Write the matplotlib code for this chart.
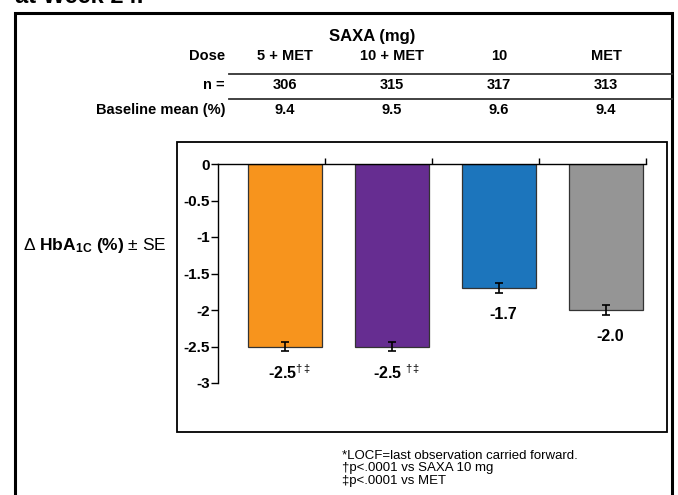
"""
Change in HbA1c at week 24 by treatment group.
"""
import matplotlib
matplotlib.use("Agg")
import matplotlib.pyplot as plt
import matplotlib.transforms as mtransforms
from matplotlib.patches import Rectangle
from matplotlib.lines import Line2D

plt.rcParams["font.family"] = ["Liberation Sans", "DejaVu Sans"]
plt.rcParams["mathtext.fontset"] = "custom"
plt.rcParams["mathtext.rm"] = "Liberation Sans"
plt.rcParams["mathtext.bf"] = "Liberation Sans:bold"
plt.rcParams["mathtext.it"] = "Liberation Sans:italic"

doses = ["5 + MET", "10 + MET", "10", "MET"]
n_patients = ["306", "315", "317", "313"]
baseline = ["9.4", "9.5", "9.6", "9.4"]
change = [-2.5, -2.5, -1.7, -2.0]
se = [0.065, 0.065, 0.07, 0.07]
value_labels = ["-2.5$^{\\dag\\,\\ddag}$", "-2.5 $^{\\dag\\,\\ddag}$", "-1.7", "-2.0"]
colors = ["#F7941D", "#662D91", "#1C75BC", "#959595"]
yticks = [0, -0.5, -1, -1.5, -2, -2.5, -3]
ytick_labels = ["0", "-0.5", "-1", "-1.5", "-2", "-2.5", "-3"]
footnotes = ["*LOCF=last observation carried forward.",
             "†p<.0001 vs SAXA 10 mg",
             "‡p<.0001 vs MET"]

W, H = 678, 495
fig = plt.figure(figsize=(W / 100, H / 100), dpi=100)


def fx(px):
    return px / W


def fy(py):
    return 1 - py / H


# axes box in pixels: x 218..646, y 164..383
ax = fig.add_axes([fx(218), fy(383), fx(646) - fx(218), fy(164) - fy(383)])

xs = list(range(len(change)))
ax.bar(xs, change, width=0.69, color=colors, edgecolor="#333333", linewidth=0.9, zorder=2)
ax.errorbar(xs, change, yerr=se, fmt="none", ecolor="black", elinewidth=1.2,
            capsize=3, capthick=1.2, zorder=3)
for x, v, lab in zip(xs, change, value_labels):
    ax.text(x + 0.04, v - 0.36, lab, ha="center", va="center",
            fontsize=11.5, fontweight="bold")

ax.set_xlim(-0.626, 3.374)
ax.set_ylim(-3, 0)
ax.set_yticks(yticks)
ax.set_yticklabels(ytick_labels, fontsize=11, fontweight="bold")
ax.tick_params(axis="y", direction="out", length=5, width=1, pad=1)
ax.xaxis.tick_top()
ax.set_xticks([x + 0.374 for x in xs])
ax.set_xticklabels([])
ax.tick_params(axis="x", direction="out", length=4, width=1)
for side in ["bottom", "right"]:
    ax.spines[side].set_visible(False)
for side in ["left", "top"]:
    ax.spines[side].set_linewidth(1)

fig.text(fx(23), fy(245), "Δ $\\mathbf{HbA}_{\\mathbf{1C}}$ $\\mathbf{(\\%)}$ ± SE",
         fontsize=12.5, ha="left", va="center")

# table above the chart, columns follow the bar positions
trans = mtransforms.blended_transform_factory(ax.transData, fig.transFigure)
fig.text(fx(372), fy(36), "SAXA (mg)", fontsize=12, fontweight="bold",
         ha="center", va="center")
rows = [("Dose", doses, 56), ("n =", n_patients, 85), ("Baseline mean (%)", baseline, 110)]
for name, vals, py in rows:
    fig.text(fx(225), fy(py), name, fontsize=10.5, fontweight="bold", ha="right", va="center")
    for x, v in zip(xs, vals):
        fig.text(x, fy(py), v, transform=trans, fontsize=10.5, fontweight="bold",
                 ha="center", va="center")
for py in [74, 99]:
    fig.add_artist(Line2D([fx(229), fx(672)], [fy(py), fy(py)], color="#333333", lw=1.3))

# frames
fig.add_artist(Rectangle((fx(15), fy(505)), fx(672) - fx(15), fy(13) - fy(505),
                         fill=False, edgecolor="black", lw=2.2, clip_on=False))
fig.add_artist(Rectangle((fx(177), fy(432)), fx(667) - fx(177), fy(142) - fy(432),
                         fill=False, edgecolor="black", lw=1.3))

# title line cut off at the top of the picture
fig.text(fx(15), fy(3), "at Week 24.", fontsize=17, fontweight="bold",
         ha="left", va="baseline")

for i, line in enumerate(footnotes):
    fig.text(fx(342), fy(456 + 12.5 * i), line, fontsize=9.5, ha="left", va="center")

fig.savefig("out.png", dpi=100)
